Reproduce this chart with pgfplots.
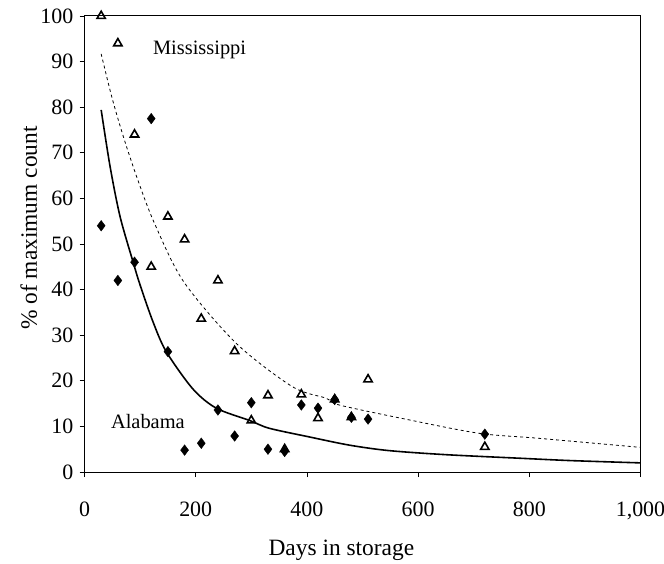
\documentclass[border=0pt]{standalone}
\usepackage{pgfplots}
\pgfplotsset{compat=1.18}
\usepackage{fontspec}
\setmainfont{Liberation Serif}

\begin{document}
\begin{tikzpicture}
\begin{axis}[
    width=556bp, height=456bp, scale only axis,
    xmin=0, xmax=1000, ymin=0, ymax=100,
    xtick={0,200,400,600,800,1000},
    xticklabels={0,200,400,600,800,{1,000}},
    ytick={0,10,...,100},
    xtick pos=bottom, ytick pos=left,
    tick align=outside,
    major tick length=5bp,
    axis line style={line width=1pt},
    every tick/.style={black, line width=0.8pt},
    /pgf/number format/assume math mode=true,
    tick label style={font=\fontsize{22}{24}\selectfont},
    xticklabel style={anchor=north, inner sep=0pt, yshift=-25bp},
    yticklabel style={anchor=east, inner sep=0pt, xshift=-6bp},
    xlabel={Days in storage},
    ylabel={\% of maximum count},
    label style={font=\fontsize{23.5}{26}\selectfont},
    xlabel style={at={(axis description cs:0.462,-0.171)}, anchor=center},
    ylabel style={at={(axis description cs:-0.1,0.535)}, anchor=center},
    clip=false,
]

% Mississippi
\addplot[only marks, mark=triangle, mark size=4.8bp, mark options={line width=1.6bp, black}]
    coordinates {
    (30,100)(60,94)(90,74)(120,45)(150,56)(180,51)(210,33.6)(240,42)(270,26.5)
    (300,11.3)(330,16.8)(360,5)(390,17)(420,11.8)(450,15.9)(480,12)(510,20.3)(720,5.5)
    };

% Alabama
\addplot[only marks, mark=diamond*, mark size=5.3bp, mark options={black}]
    coordinates {
    (30,54)(60,42)(90,46)(120,77.5)(150,26.4)(180,4.8)(210,6.3)(240,13.6)(270,7.9)
    (300,15.2)(330,5)(360,4.5)(390,14.7)(420,14)(450,15.9)(480,12)(510,11.6)(720,8.3)
    };

% Mississippi trend
\addplot[black, line width=0.8pt, dash pattern=on 3bp off 3bp, smooth, no marks]
    coordinates {
    (30,91.7)(49,82.3)(70,73.5)(96,64)(126,54.5)(178,41.8)(273,28.2)(374,18.7)
    (434,16.2)(458,14.7)(577,11.6)(709,8.5)(816,7.4)(1000,5.4)
    };

% Alabama trend
\addplot[black, line width=1.6pt, smooth, no marks]
    coordinates {
    (30,79.4)(46,67)(64,56)(88,45.8)(100,41)(123,33)(147,26.4)(195,18.2)(237,14)
    (297,11.3)(332,9.6)(404,7.7)(476,5.9)(547,4.7)(650,3.8)(786,3.0)(875,2.5)(1000,2.0)
    };

\node[font=\fontsize{20.5}{22}\selectfont] at (axis cs:207,92.5) {Mississippi};
\node[font=\fontsize{20.5}{22}\selectfont] at (axis cs:114,11) {Alabama};
\end{axis}
\pgfresetboundingbox
\path ([shift={(-84.5bp,-92bp)}]current axis.south west) rectangle ([shift={(23.5bp,16bp)}]current axis.north east);
\end{tikzpicture}
\end{document}
